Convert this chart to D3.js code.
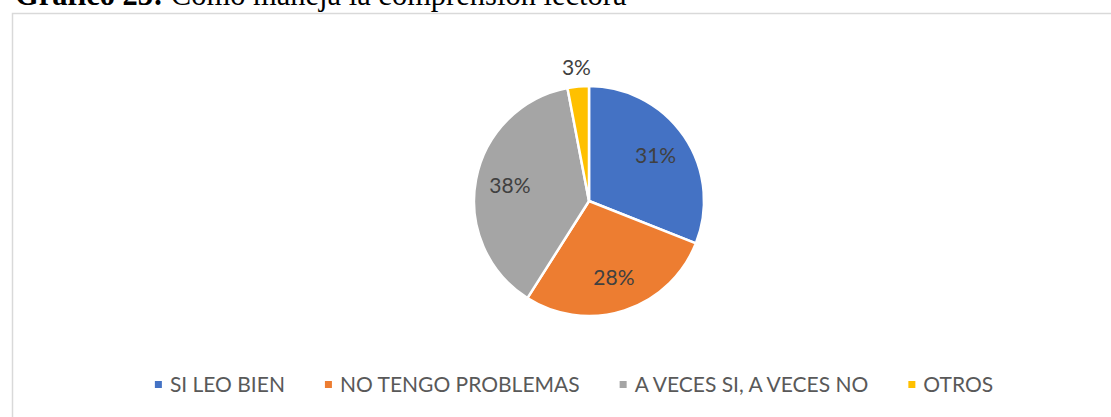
<!DOCTYPE html>
<html>
<head>
<meta charset="utf-8">
<script src="https://cdn.jsdelivr.net/npm/d3@7"></script>
<style>
  body { margin: 0; background: #fff; }
  svg { display: block; }
</style>
</head>
<body>
<svg id="chart" width="1111" height="417"></svg>
<script>
// data
const categories = ["SI LEO BIEN", "NO TENGO PROBLEMAS", "A VECES SI, A VECES NO", "OTROS"];
const values = [31, 28, 38, 3];
const labels = ["31%", "28%", "38%", "3%"];
const colors = ["#4472C4", "#ED7D31", "#A5A5A5", "#FFC000"];

const width = 1111, height = 417;
const cx = 589, cy = 201, radius = 115;

const svg = d3.select('#chart');

// title, partly cut off at the top (as in the source page)
const title = svg.append('text')
    .attr('x', 15)
    .attr('y', 5)
    .style('font-family', '"Liberation Serif", "Times New Roman", serif')
    .style('font-size', '30.5px')
    .style('fill', '#000');
title.append('tspan').style('font-weight', 'bold').text('Gráfico 23:');
title.append('tspan').text(' Cómo maneja la comprensión lectora');

// chart frame
svg.append('rect')
    .attr('x', 12.5)
    .attr('y', 13.5)
    .attr('width', 1110)
    .attr('height', 420)
    .attr('fill', 'none')
    .attr('stroke', '#d9d9d9')
    .attr('stroke-width', 1.5);

const pie = d3.pie().sort(null).value(d => d);
const arcs = pie(values);
const arc = d3.arc().innerRadius(0).outerRadius(radius);
const labelArc = d3.arc().innerRadius(radius * 0.7).outerRadius(radius * 0.7);
const outerArc = d3.arc().innerRadius(radius * 1.165).outerRadius(radius * 1.165);

const g = svg.append('g').attr('transform', `translate(${cx},${cy})`);

g.selectAll('path')
    .data(arcs)
    .enter()
    .append('path')
    .attr('d', arc)
    .attr('fill', (d, i) => colors[i])
    .attr('stroke', '#fff')
    .attr('stroke-width', 2.5)
    .attr('stroke-linejoin', 'round');

// small slices get their label outside
g.selectAll('text.lbl')
    .data(arcs)
    .enter()
    .append('text')
    .attr('class', 'lbl')
    .attr('transform', d => {
        const small = (d.endAngle - d.startAngle) < 0.3;
        return `translate(${(small ? outerArc : labelArc).centroid(d)})`;
    })
    .attr('text-anchor', 'middle')
    .attr('dy', '0.35em')
    .style('font-family', 'Lato, "Open Sans", sans-serif')
    .style('font-size', '21px')
    .style('fill', '#404040')
    .text((d, i) => labels[i]);

// legend, centred under the pie
const legend = svg.append('g');
const items = legend.selectAll('g')
    .data(categories)
    .enter()
    .append('g');

items.append('rect')
    .attr('width', 7)
    .attr('height', 7)
    .attr('y', -3.5)
    .attr('fill', (d, i) => colors[i]);

items.append('text')
    .attr('x', 15)
    .attr('dy', '0.35em')
    .style('font-family', 'Lato, "Open Sans", sans-serif')
    .style('font-size', '21px')
    .style('fill', '#595959')
    .text(d => d);

const gap = 40;
let x = 0;
const offsets = [];
items.each(function () {
    offsets.push(x);
    const w = d3.select(this).select('text').node().getComputedTextLength();
    x += 15 + w + gap;
});
const total = x - gap;
const startX = 574 - total / 2;
items.attr('transform', (d, i) => `translate(${startX + offsets[i]},384.5)`);
</script>
</body>
</html>
